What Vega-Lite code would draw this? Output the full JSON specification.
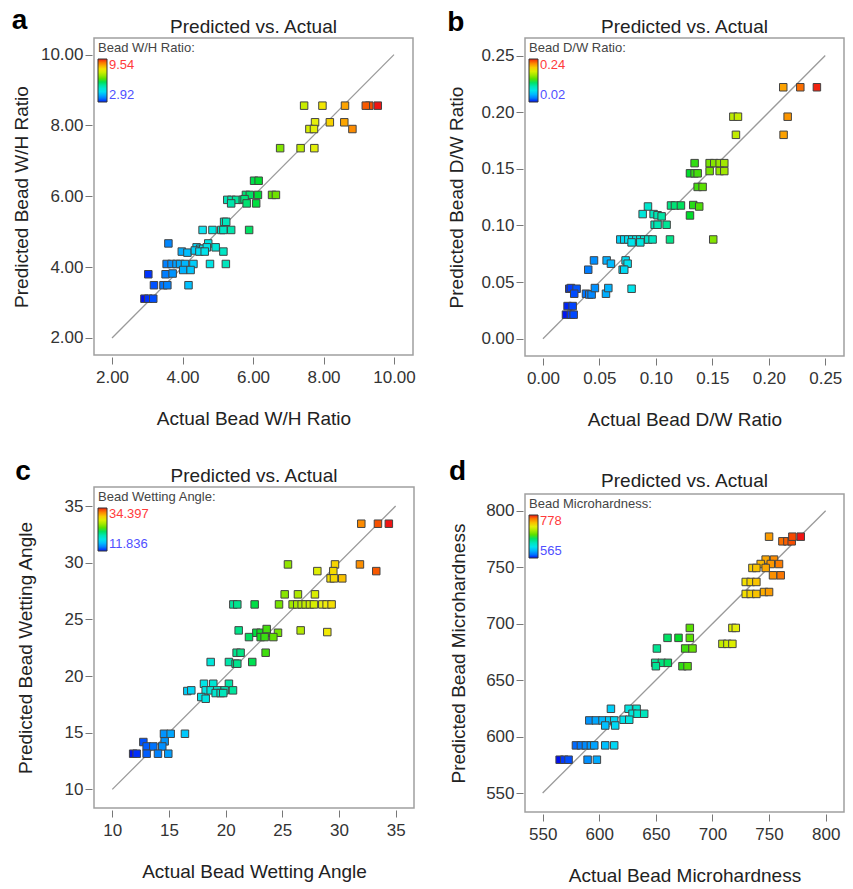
{
  "$schema": "https://vega.github.io/schema/vega-lite/v6.json",
  "background": "white",
  "padding": {"left": 11, "top": 7, "right": 5, "bottom": 5},
  "columns": 2,
  "align": {"row": "none", "column": "all"},
  "spacing": {"row": 28, "column": 30},
  "resolve": {"scale": {"color": "independent"}, "legend": {"color": "independent"}},
  "config": {
    "font": "Liberation Sans",
    "view": {"stroke": "#a0a0a0", "strokeWidth": 1.5},
    "axis": {"domain": false, "grid": false, "offset": 2, "tickSize": 7, "tickColor": "#777", "labelFontSize": 17, "labelColor": "#333", "titleFontSize": 19, "titleFontWeight": "normal", "titleColor": "#222", "labelFont": "Liberation Sans", "titleFont": "Liberation Sans"},
    "axisX": {"labelPadding": 5, "titlePadding": 24},
    "axisY": {"labelPadding": 2},
    "legend": {"orient": "top-left", "offset": 4, "padding": 0, "direction": "vertical", "gradientLength": 43, "gradientThickness": 9, "gradientStrokeColor": "#333", "gradientStrokeWidth": 1, "labelFontSize": 13, "labelOffset": 3, "titleFontSize": 13, "titleFontWeight": "normal", "titleColor": "#444", "titlePadding": 4, "titleLimit": 300, "labelFont": "Liberation Sans", "titleFont": "Liberation Sans"},
    "title": {"font": "Liberation Sans", "color": "#222"}
  },
  "datasets": {
    "A": [
      {"a":9.54,"p":8.56},{"a":9.30,"p":8.56},{"a":9.20,"p":8.56},{"a":8.61,"p":8.56},{"a":7.97,"p":8.56},{"a":7.45,"p":8.56},
      {"a":7.76,"p":8.09},{"a":8.18,"p":8.09},{"a":8.59,"p":8.09},
      {"a":7.60,"p":7.90},{"a":7.73,"p":7.90},{"a":8.82,"p":7.90},
      {"a":6.77,"p":7.36},{"a":7.35,"p":7.36},{"a":7.74,"p":7.36},
      {"a":6.03,"p":6.44},{"a":6.16,"p":6.44},
      {"a":5.80,"p":6.04},{"a":5.91,"p":6.04},{"a":6.14,"p":6.04},{"a":6.54,"p":6.04},{"a":6.65,"p":6.04},
      {"a":5.27,"p":5.90},{"a":5.39,"p":5.90},{"a":5.52,"p":5.90},{"a":5.71,"p":5.90},{"a":5.76,"p":5.92},
      {"a":5.38,"p":5.80},{"a":5.82,"p":5.80},{"a":6.09,"p":5.80},
      {"a":5.18,"p":5.28},{"a":5.24,"p":5.28},
      {"a":4.57,"p":5.05},{"a":4.85,"p":5.05},{"a":5.10,"p":5.05},{"a":5.16,"p":5.05},{"a":5.38,"p":5.05},{"a":5.89,"p":5.05},
      {"a":3.60,"p":4.67},{"a":4.73,"p":4.67},
      {"a":4.40,"p":4.56},{"a":4.50,"p":4.52},{"a":4.59,"p":4.52},{"a":4.69,"p":4.56},{"a":4.94,"p":4.56},
      {"a":3.98,"p":4.44},{"a":4.14,"p":4.41},{"a":4.35,"p":4.47},{"a":4.48,"p":4.44},{"a":4.63,"p":4.44},{"a":5.16,"p":4.44},
      {"a":3.55,"p":4.09},{"a":3.69,"p":4.09},{"a":3.83,"p":4.09},{"a":3.93,"p":4.09},{"a":4.07,"p":4.09},{"a":4.31,"p":4.09},{"a":4.78,"p":4.09},{"a":5.23,"p":4.09},
      {"a":4.02,"p":3.92},{"a":4.23,"p":3.92},
      {"a":3.03,"p":3.80},{"a":3.52,"p":3.80},{"a":3.72,"p":3.82},
      {"a":3.19,"p":3.49},{"a":3.46,"p":3.49},{"a":3.57,"p":3.49},{"a":4.17,"p":3.49},
      {"a":2.92,"p":3.11},{"a":3.03,"p":3.11},{"a":3.17,"p":3.11}
    ],
    "B": [
      {"a":0.2426,"p":0.222},{"a":0.2279,"p":0.222},{"a":0.2128,"p":0.222},
      {"a":0.1686,"p":0.196},{"a":0.1727,"p":0.196},{"a":0.2167,"p":0.196},
      {"a":0.1709,"p":0.180},{"a":0.2131,"p":0.180},
      {"a":0.1343,"p":0.155},{"a":0.1476,"p":0.155},{"a":0.1517,"p":0.155},{"a":0.1565,"p":0.155},{"a":0.1606,"p":0.155},
      {"a":0.1302,"p":0.146},{"a":0.1343,"p":0.146},{"a":0.137,"p":0.146},{"a":0.1476,"p":0.148},{"a":0.1565,"p":0.148},{"a":0.1606,"p":0.148},
      {"a":0.137,"p":0.134},{"a":0.1414,"p":0.134},
      {"a":0.1134,"p":0.1176},{"a":0.1169,"p":0.1176},{"a":0.1222,"p":0.1176},{"a":0.1331,"p":0.118},{"a":0.1384,"p":0.1167},
      {"a":0.093,"p":0.1167},
      {"a":0.0883,"p":0.110},{"a":0.098,"p":0.110},{"a":0.1015,"p":0.109},{"a":0.1051,"p":0.108},
      {"a":0.1302,"p":0.1088},
      {"a":0.0989,"p":0.1006},{"a":0.1015,"p":0.1006},{"a":0.1095,"p":0.1006},
      {"a":0.0685,"p":0.0876},{"a":0.072,"p":0.0876},{"a":0.0756,"p":0.0876},{"a":0.0791,"p":0.0876},{"a":0.0827,"p":0.0876},{"a":0.0862,"p":0.0876},{"a":0.0897,"p":0.0876},{"a":0.0933,"p":0.0876},{"a":0.0971,"p":0.0876},
      {"a":0.0785,"p":0.085},{"a":0.0862,"p":0.085},
      {"a":0.1125,"p":0.0876},{"a":0.1508,"p":0.0876},
      {"a":0.0452,"p":0.0691},{"a":0.0564,"p":0.0691},{"a":0.0602,"p":0.0662},{"a":0.0732,"p":0.0691},{"a":0.075,"p":0.0662},
      {"a":0.0401,"p":0.0609},{"a":0.0706,"p":0.0609},{"a":0.072,"p":0.0609},
      {"a":0.0233,"p":0.0441},{"a":0.0248,"p":0.0447},{"a":0.0298,"p":0.0441},{"a":0.0277,"p":0.0397},
      {"a":0.0381,"p":0.0397},{"a":0.041,"p":0.039},{"a":0.0431,"p":0.039},
      {"a":0.046,"p":0.0447},{"a":0.0558,"p":0.0397},{"a":0.0579,"p":0.0447},{"a":0.0785,"p":0.0441},
      {"a":0.0218,"p":0.0288},{"a":0.0263,"p":0.0288},
      {"a":0.0204,"p":0.0212},{"a":0.0248,"p":0.0212},{"a":0.0272,"p":0.0212}
    ],
    "C": [
      {"a":31.97,"p":33.44},{"a":33.44,"p":33.44},{"a":34.40,"p":33.44},
      {"a":25.5,"p":29.85},{"a":29.65,"p":29.85},{"a":31.85,"p":29.85},
      {"a":33.29,"p":29.26},{"a":28.09,"p":29.26},{"a":29.5,"p":29.26},
      {"a":29.26,"p":28.62},{"a":29.56,"p":28.62},{"a":30.29,"p":28.62},
      {"a":25.21,"p":27.21},{"a":26.38,"p":27.21},{"a":27.88,"p":27.21},
      {"a":20.68,"p":26.32},{"a":21.03,"p":26.32},{"a":22.56,"p":26.32},{"a":24.71,"p":26.32},{"a":25.91,"p":26.32},{"a":26.32,"p":26.32},{"a":26.71,"p":26.32},{"a":27.06,"p":26.32},{"a":27.44,"p":26.32},{"a":27.79,"p":26.32},{"a":28.53,"p":26.32},{"a":28.91,"p":26.32},{"a":29.35,"p":26.32},
      {"a":26.62,"p":24.03},{"a":28.97,"p":23.88},{"a":21.15,"p":24.03},
      {"a":22.71,"p":23.82},{"a":23.09,"p":23.82},{"a":23.62,"p":23.82},{"a":24.62,"p":23.82},
      {"a":22.06,"p":23.44},{"a":23.09,"p":23.44},{"a":23.44,"p":23.44},{"a":24.21,"p":23.44},{"a":23.62,"p":24.15},
      {"a":20.97,"p":22.06},{"a":21.32,"p":22.06},{"a":23.53,"p":22.06},
      {"a":18.68,"p":21.24},{"a":20.29,"p":21.24},{"a":22.35,"p":21.24},
      {"a":20.88,"p":21.09},{"a":21.03,"p":21.09},
      {"a":18.09,"p":19.32},{"a":18.91,"p":19.32},{"a":20.29,"p":19.32},
      {"a":16.62,"p":18.68},{"a":16.97,"p":18.74},{"a":18.24,"p":18.74},{"a":18.68,"p":18.74},{"a":19.26,"p":18.74},{"a":19.91,"p":18.74},{"a":20.65,"p":18.74},
      {"a":19.12,"p":18.5},{"a":19.56,"p":18.5},{"a":19.79,"p":18.5},
      {"a":17.85,"p":18.15},{"a":18.24,"p":18.0},
      {"a":14.56,"p":14.91},{"a":15.15,"p":14.91},{"a":16.41,"p":14.91},
      {"a":12.74,"p":14.18},{"a":14.62,"p":14.24},
      {"a":13.03,"p":13.79},{"a":13.62,"p":13.79},{"a":14.41,"p":13.79},
      {"a":11.84,"p":13.15},{"a":12.15,"p":13.15},{"a":13.03,"p":13.15},{"a":14.03,"p":13.15},{"a":14.94,"p":13.15}
    ],
    "D": [
      {"a":750,"p":777},{"a":761.8,"p":772.9},{"a":766.2,"p":772.9},{"a":770,"p":772.9},{"a":770.6,"p":777},{"a":778,"p":777},
      {"a":747,"p":756.7},{"a":754.4,"p":756.7},
      {"a":742.6,"p":752.8},{"a":751.5,"p":752.8},{"a":758.8,"p":752.8},
      {"a":735.3,"p":749.3},{"a":738.8,"p":749.3},{"a":747,"p":749.3},
      {"a":753.5,"p":742.8},{"a":760.3,"p":742.8},
      {"a":729.4,"p":736.9},{"a":733.8,"p":736.9},{"a":738.8,"p":736.9},
      {"a":729.4,"p":726.3},{"a":733.8,"p":726.3},{"a":738.8,"p":726.3},{"a":745.6,"p":728},{"a":750,"p":728},
      {"a":680,"p":696.2},{"a":717.6,"p":696.2},{"a":720.6,"p":696.2},
      {"a":660.3,"p":687.4},{"a":670,"p":687.4},{"a":680,"p":687.4},
      {"a":650.9,"p":678},{"a":675.9,"p":678},{"a":682.4,"p":678},
      {"a":708.8,"p":682.1},{"a":713.2,"p":682.1},{"a":717.6,"p":682.1},
      {"a":649.4,"p":665.3},{"a":655.3,"p":665.3},{"a":660.6,"p":665.3},{"a":650,"p":662.3},{"a":673.5,"p":662.3},{"a":678,"p":662.3},
      {"a":610.3,"p":624.6},{"a":625.9,"p":624.6},{"a":633,"p":624.6},
      {"a":629.4,"p":620.2},{"a":633.8,"p":620.2},{"a":639.7,"p":620.2},
      {"a":621.5,"p":614.9},{"a":626.5,"p":614.9},
      {"a":591.2,"p":614.3},{"a":597,"p":614.3},{"a":602.9,"p":614.3},{"a":608.8,"p":614.3},{"a":613.2,"p":614.3},
      {"a":605.3,"p":609.8},{"a":614.1,"p":609.8},
      {"a":579.4,"p":592.2},{"a":583.8,"p":592.2},{"a":588.2,"p":592.2},{"a":592.6,"p":592.2},{"a":595.6,"p":592.2},
      {"a":605.3,"p":592.2},{"a":613.2,"p":592.2},
      {"a":589.7,"p":579.5},{"a":597.9,"p":579.5},
      {"a":565,"p":579.5},{"a":569.1,"p":579.5},{"a":572.9,"p":579.5}
    ]
  },
  "concat": [
    {
      "title": {"text": "a", "anchor": "start", "fontSize": 28, "fontWeight": "bold", "color": "#000", "offset": -18},
      "resolve": {"scale": {"color": "independent"}, "legend": {"color": "independent"}},
      "hconcat": [{
        "width": 319, "height": 317,
        "title": {"text": "Predicted vs. Actual", "frame": "group", "offset": 1, "fontSize": 19, "fontWeight": "normal"},
        "encoding": {
          "x": {"field": "a", "type": "quantitative", "scale": {"domain": [1.489, 10.539], "nice": false, "zero": false}, "axis": {"title": "Actual Bead W/H Ratio", "values": [2, 4, 6, 8, 10], "format": ".2f"}},
          "y": {"field": "p", "type": "quantitative", "scale": {"domain": [1.52, 10.47], "nice": false, "zero": false}, "axis": {"title": "Predicted Bead W/H Ratio", "values": [2, 4, 6, 8, 10], "format": ".2f", "titlePadding": 9}}
        },
        "layer": [
          {"data": {"values": [{"a": 2, "p": 2, "a2": 10, "p2": 10}]}, "mark": {"type": "rule", "color": "#9a9a9a", "strokeWidth": 1.3}, "encoding": {"x2": {"field": "a2"}, "y2": {"field": "p2"}}},
          {"data": {"name": "A"}, "mark": {"type": "point", "shape": "square", "filled": true, "size": 56, "stroke": "#444", "strokeWidth": 1, "opacity": 1},
           "encoding": {"color": {"field": "a", "type": "quantitative", "scale": {"domain": [2.92, 9.54], "range": ["#0010f0", "#18e4f0", "#18dc18", "#f0f018", "#f01414"]},
             "legend": {"title": "Bead W/H Ratio:", "values": [2.92, 9.54], "format": ".2f", "labelColor": {"expr": "datum.value > 6 ? '#ff3b3b' : '#5050ff'"}}}}}
        ]
      }]
    },
    {
      "title": {"text": "b", "anchor": "start", "fontSize": 28, "fontWeight": "bold", "color": "#000", "offset": -20},
      "resolve": {"scale": {"color": "independent"}, "legend": {"color": "independent"}},
      "hconcat": [{
        "width": 319, "height": 318,
        "title": {"text": "Predicted vs. Actual", "frame": "group", "offset": 1, "fontSize": 19, "fontWeight": "normal"},
        "encoding": {
          "x": {"field": "a", "type": "quantitative", "scale": {"domain": [-0.0159, 0.2666], "nice": false, "zero": false}, "axis": {"title": "Actual Bead D/W Ratio", "values": [0, 0.05, 0.1, 0.15, 0.2, 0.25], "format": ".2f"}},
          "y": {"field": "p", "type": "quantitative", "scale": {"domain": [-0.0153, 0.2655], "nice": false, "zero": false}, "axis": {"title": "Predicted Bead D/W Ratio", "values": [0, 0.05, 0.1, 0.15, 0.2, 0.25], "format": ".2f", "titlePadding": 14}}
        },
        "layer": [
          {"data": {"values": [{"a": 0, "p": 0, "a2": 0.25, "p2": 0.25}]}, "mark": {"type": "rule", "color": "#9a9a9a", "strokeWidth": 1.3}, "encoding": {"x2": {"field": "a2"}, "y2": {"field": "p2"}}},
          {"data": {"name": "B"}, "mark": {"type": "point", "shape": "square", "filled": true, "size": 56, "stroke": "#444", "strokeWidth": 1, "opacity": 1},
           "encoding": {"color": {"field": "a", "type": "quantitative", "scale": {"domain": [0.02, 0.244], "range": ["#0010f0", "#18e4f0", "#18dc18", "#f0f018", "#f01414"]},
             "legend": {"title": "Bead D/W Ratio:", "values": [0.02, 0.244], "format": ".2f", "labelColor": {"expr": "datum.value > 0.1 ? '#ff3b3b' : '#5050ff'"}}}}}
        ]
      }]
    },
    {
      "title": {"text": "c", "anchor": "start", "fontSize": 28, "fontWeight": "bold", "color": "#000", "offset": -20},
      "resolve": {"scale": {"color": "independent"}, "legend": {"color": "independent"}},
      "hconcat": [{
        "width": 320, "height": 321,
        "title": {"text": "Predicted vs. Actual", "frame": "group", "offset": 1, "fontSize": 19, "fontWeight": "normal"},
        "encoding": {
          "x": {"field": "a", "type": "quantitative", "scale": {"domain": [8.385, 36.62], "nice": false, "zero": false}, "axis": {"title": "Actual Bead Wetting Angle", "values": [10, 15, 20, 25, 30, 35]}},
          "y": {"field": "p", "type": "quantitative", "scale": {"domain": [8.36, 36.68], "nice": false, "zero": false}, "axis": {"title": "Predicted Bead Wetting Angle", "values": [10, 15, 20, 25, 30, 35], "titlePadding": 29}}
        },
        "layer": [
          {"data": {"values": [{"a": 10, "p": 10, "a2": 35, "p2": 35}]}, "mark": {"type": "rule", "color": "#9a9a9a", "strokeWidth": 1.3}, "encoding": {"x2": {"field": "a2"}, "y2": {"field": "p2"}}},
          {"data": {"name": "C"}, "mark": {"type": "point", "shape": "square", "filled": true, "size": 56, "stroke": "#444", "strokeWidth": 1, "opacity": 1},
           "encoding": {"color": {"field": "a", "type": "quantitative", "scale": {"domain": [11.836, 34.397], "range": ["#0010f0", "#18e4f0", "#18dc18", "#f0f018", "#f01414"]},
             "legend": {"title": "Bead Wetting Angle:", "values": [11.836, 34.397], "format": ".3f", "labelColor": {"expr": "datum.value > 20 ? '#ff3b3b' : '#5050ff'"}}}}}
        ]
      }]
    },
    {
      "title": {"text": "d", "anchor": "start", "fontSize": 28, "fontWeight": "bold", "color": "#000", "offset": -15},
      "resolve": {"scale": {"color": "independent"}, "legend": {"color": "independent"}},
      "hconcat": [{
        "width": 319, "height": 318,
        "title": {"text": "Predicted vs. Actual", "frame": "group", "offset": 3, "fontSize": 19, "fontWeight": "normal"},
        "encoding": {
          "x": {"field": "a", "type": "quantitative", "scale": {"domain": [534.4, 816.2], "nice": false, "zero": false}, "axis": {"title": "Actual Bead Microhardness", "values": [550, 600, 650, 700, 750, 800]}},
          "y": {"field": "p", "type": "quantitative", "scale": {"domain": [533.2, 814.8], "nice": false, "zero": false}, "axis": {"title": "Predicted Bead Microhardness", "values": [550, 600, 650, 700, 750, 800], "titlePadding": 17}}
        },
        "layer": [
          {"data": {"values": [{"a": 550, "p": 550, "a2": 800, "p2": 800}]}, "mark": {"type": "rule", "color": "#9a9a9a", "strokeWidth": 1.3}, "encoding": {"x2": {"field": "a2"}, "y2": {"field": "p2"}}},
          {"data": {"name": "D"}, "mark": {"type": "point", "shape": "square", "filled": true, "size": 56, "stroke": "#444", "strokeWidth": 1, "opacity": 1},
           "encoding": {"color": {"field": "a", "type": "quantitative", "scale": {"domain": [565, 778], "range": ["#0010f0", "#18e4f0", "#18dc18", "#f0f018", "#f01414"]},
             "legend": {"title": "Bead Microhardness:", "values": [565, 778], "format": "d", "labelColor": {"expr": "datum.value > 670 ? '#ff3b3b' : '#5050ff'"}}}}}
        ]
      }]
    }
  ]
}
